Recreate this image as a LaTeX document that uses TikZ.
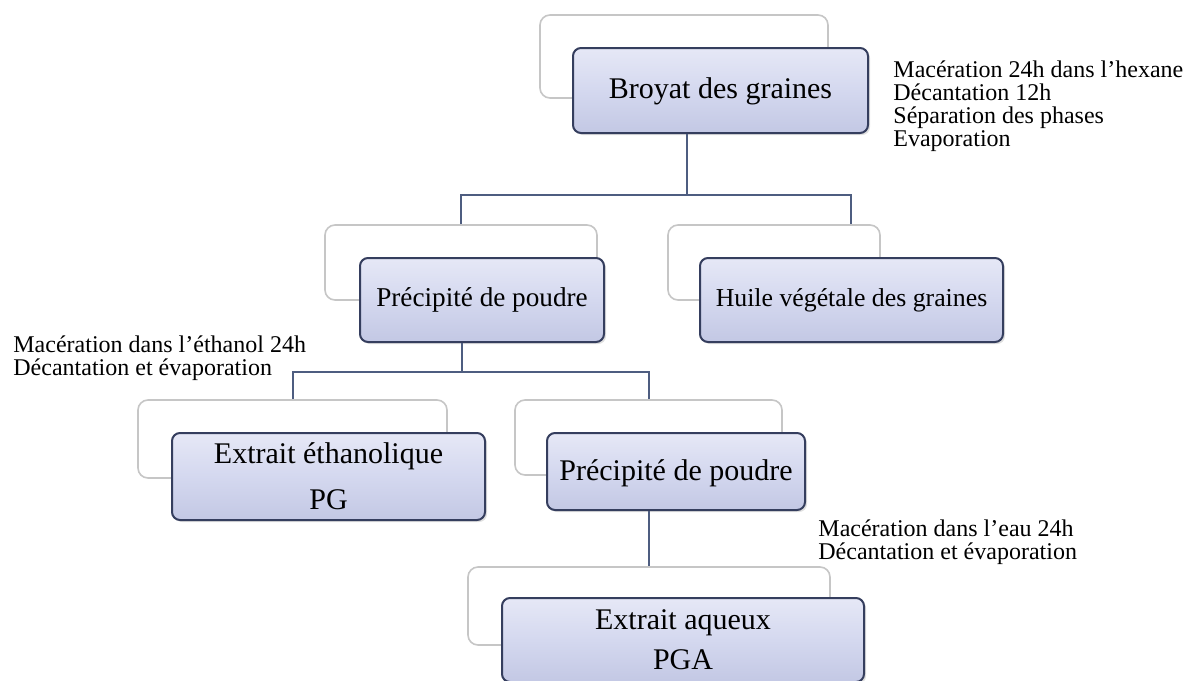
\documentclass[tikz,border=0pt]{standalone}
\usepackage{fontspec}
\setmainfont{Liberation Serif}
\usetikzlibrary{shadows}
\definecolor{boxedge}{HTML}{353E5E}
\definecolor{boxtop}{HTML}{E6E8F6}
\definecolor{boxmid}{HTML}{D4D8EF}
\definecolor{boxbot}{HTML}{C3C8E4}
\definecolor{backedge}{HTML}{C6C6C6}
\definecolor{linkcol}{HTML}{4E5D80}
\begin{document}
\begin{tikzpicture}[x=0.5pt,y=-0.5pt,every node/.style={font=\fontsize{15}{18}\selectfont}]
  \tikzset{
    back/.style={rectangle,rounded corners=5pt,draw=backedge,line width=0.8pt,fill=white,inner sep=0pt},
    front/.style={rectangle,rounded corners=4pt,draw=boxedge,line width=1pt,top color=boxtop,bottom color=boxbot,middle color=boxmid,
      inner sep=0pt,align=center,drop shadow={opacity=0.25,shadow xshift=1pt,shadow yshift=-1pt}},
    note/.style={anchor=north west,inner sep=0pt,align=left,font=\fontsize{12}{11.6}\selectfont},
    link/.style={draw=linkcol,line width=1pt}
  }
  \useasboundingbox (0,0) rectangle (1192,680);
  % back panels
  \node[back,minimum width=144pt,minimum height=41.5pt] (broyatbg) at (684,56.5) {};
  \node[back,minimum width=136pt,minimum height=37.5pt] (prec1bg) at (461,262.5) {};
  \node[back,minimum width=106pt,minimum height=37.5pt] (huilebg) at (774,262.5) {};
  \node[back,minimum width=154.5pt,minimum height=39pt] (ethbg) at (292.5,439) {};
  \node[back,minimum width=133.5pt,minimum height=37.5pt] (prec2bg) at (648.5,437.5) {};
  \node[back,minimum width=181pt,minimum height=39pt] (aqbg) at (649,606) {};
  % boxes
  \node[front,minimum width=147.5pt,minimum height=42.5pt,text depth=2pt] (broyat) at (720.5,90.5) {Broyat des graines};
  \node[front,minimum width=122pt,minimum height=42pt,font=\fontsize{13.6}{16}\selectfont] (prec1) at (482,300) {Précipité de poudre};
  \node[front,minimum width=151.5pt,minimum height=42pt,font=\fontsize{12.9}{16}\selectfont] (huile) at (851.5,300) {Huile végétale des graines};
  \node[front,minimum width=156.5pt,minimum height=43.5pt,font=\fontsize{15}{23}\selectfont] (eth) at (328.5,476.5) {Extrait éthanolique\\PG};
  \node[front,minimum width=129pt,minimum height=38.5pt,text depth=1.5pt] (prec2) at (676,471.5) {Précipité de poudre};
  \node[front,minimum width=181pt,minimum height=42pt,font=\fontsize{15}{20}\selectfont] (aq) at (683,640) {Extrait aqueux\\PGA};
  % joints
  \coordinate (j1) at (687,195);
  \coordinate (j1l) at (461,195);
  \coordinate (j1r) at (851,195);
  \coordinate (j2) at (462,372);
  \coordinate (j2l) at (293,372);
  \coordinate (j2r) at (649,372);
  \draw[link] (j1 |- broyat.south) -- (j1);
  \draw[link] (j1l |- prec1bg.north) -- (j1l) -- (j1r) -- (j1r |- huilebg.north);
  \draw[link] (j2 |- prec1.south) -- (j2);
  \draw[link] (j2l |- ethbg.north) -- (j2l) -- (j2r) -- (j2r |- prec2bg.north);
  \draw[link] (prec2.south -| aqbg.north) -- (aqbg.north);
  % steps
  \node[note] (n1) at (893,60) {Macération 24h dans l’hexane\\Décantation 12h\\Séparation des phases\\Evaporation};
  \node[note] (n2) at (13,335) {Macération dans l’éthanol 24h\\Décantation et évaporation};
  \node[note] (n3) at (818,519) {Macération dans l’eau 24h\\Décantation et évaporation};
\end{tikzpicture}
\end{document}
